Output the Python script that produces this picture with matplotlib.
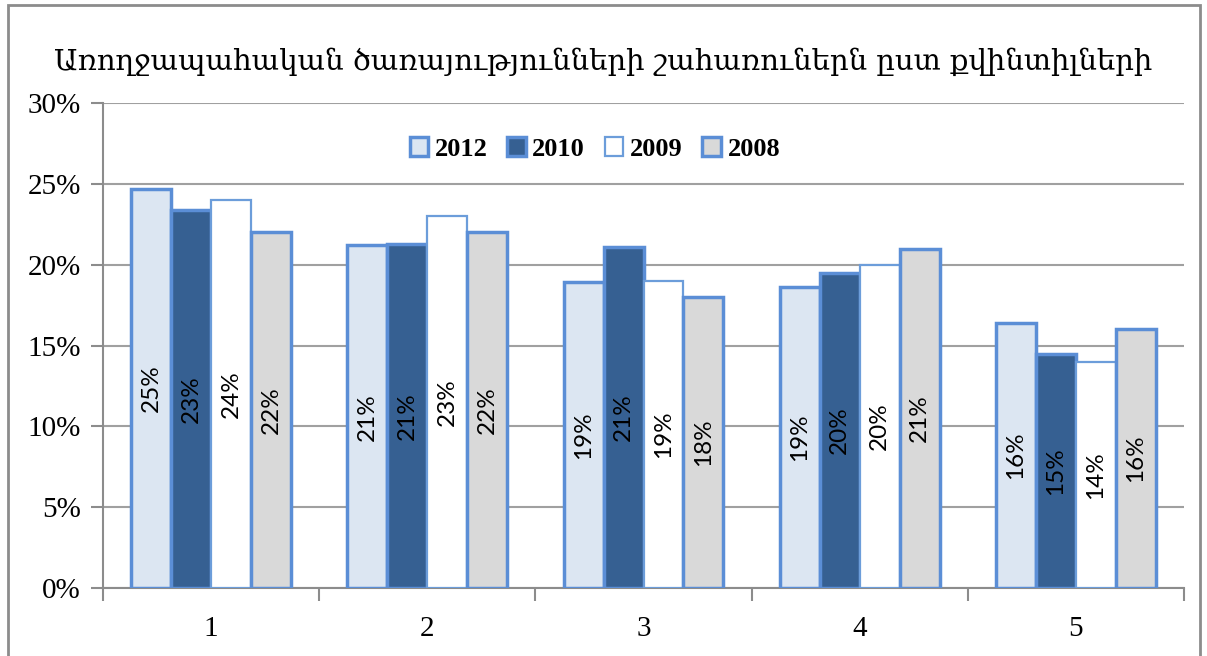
import numpy as np
import matplotlib.pyplot as plt
from matplotlib.patches import Rectangle

# данные
categories = ['1', '2', '3', '4', '5']
years = ['2012', '2010', '2009', '2008']
v2012 = [24.7, 21.2, 18.9, 18.6, 16.4]
v2010 = [23.4, 21.3, 21.1, 19.5, 14.5]
v2009 = [24.0, 23.0, 19.0, 20.0, 14.0]
v2008 = [22.0, 22.0, 18.0, 21.0, 16.0]
yticks = [0, 5, 10, 15, 20, 25, 30]
title = 'Առողջապահական ծառայությունների շահառուներն ըստ քվինտիլների'

series = [v2012, v2010, v2009, v2008]
fills = ['#DCE6F2', '#366092', '#FFFFFF', '#D9D9D9']
edges = ['#5B8ED6', '#5B8ED6', '#6C9DDA', '#5B8ED6']
lws = [2.5, 2.5, 1.6, 2.5]

serif = ['Liberation Serif', 'DejaVu Serif']
title_font = ['DejaVu Serif', 'DejaVu Sans']

fig = plt.figure(figsize=(12.07, 6.56), dpi=100)
ax = fig.add_axes([103 / 1207, 1 - 588 / 656, 1081 / 1207, 485 / 656])

# рамка рисунка
fig.patches.append(Rectangle((8 / 1207, -0.05), 1192 / 1207, 1.05 - 5 / 656,
                             transform=fig.transFigure, fill=False,
                             edgecolor='#8C8C8C', lw=2))

x = np.arange(1, len(categories) + 1)
w = 0.185
for i, vals in enumerate(series):
    pos = x + (i - 1.5) * w
    bars = ax.bar(pos, vals, width=w, color=fills[i], edgecolor=edges[i],
                  linewidth=lws[i], label=years[i], zorder=3)
    for b, v in zip(bars, vals):
        ax.text(b.get_x() + b.get_width() / 2, v / 2, '%d%%' % int(v + 0.5),
                rotation=90, ha='center', va='center', fontsize=17.5,
                family='Lato', color='black', zorder=4)

ax.set_xlim(0.5, len(categories) + 0.5)
ax.set_ylim(0, 30)
ax.set_yticks(yticks)
ax.set_yticklabels(['%d%%' % t for t in yticks], family=serif, fontsize=21)
ax.set_xticks(x)
ax.set_xticklabels(categories, family=serif, fontsize=21)
ax.set_xticks(np.arange(0.5, len(categories) + 1), minor=True)
ax.tick_params(axis='x', which='major', length=0, pad=20)
ax.tick_params(axis='x', which='minor', length=9, width=1.5, color='#8C8C8C', direction='out')
ax.tick_params(axis='y', length=9, width=1.5, color='#8C8C8C', pad=7)
ax.grid(axis='y', color='#A0A0A0', lw=1.5, zorder=0)
for s in ['top', 'right']:
    ax.spines[s].set_visible(False)
for s in ['left', 'bottom']:
    ax.spines[s].set_color('#8C8C8C')
    ax.spines[s].set_linewidth(1.5)

ax.legend(loc='center', bbox_to_anchor=(0.455, 0.905), ncol=4, frameon=False,
          handlelength=0.7, handleheight=0.7, handletextpad=0.25, columnspacing=0.75,
          prop={'family': serif, 'weight': 'bold', 'size': 19})

fig.text(0.5, 1 - 62 / 656, title, ha='center', va='center', fontsize=21, family=title_font)

fig.savefig('out.png', dpi=100)
